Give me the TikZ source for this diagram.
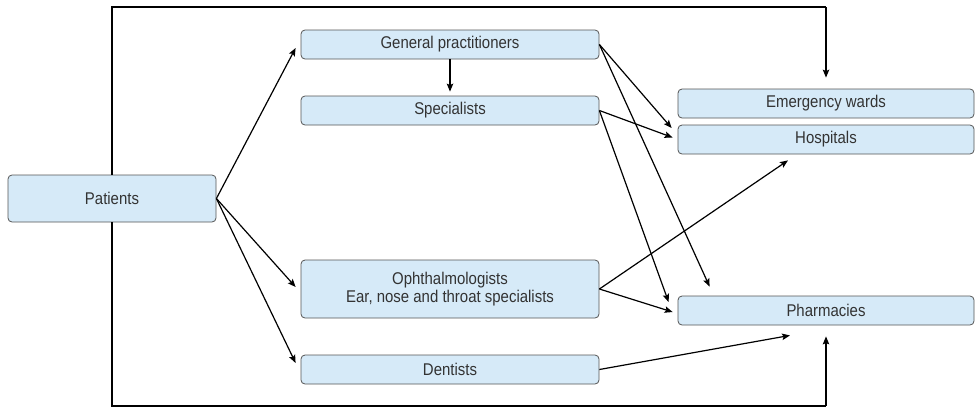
\documentclass[tikz,border=0pt]{standalone}
\usepackage{fontspec}
\setmainfont[FakeStretch=0.88]{Liberation Sans}
\usetikzlibrary{arrows.meta,calc}
\definecolor{boxfill}{HTML}{D6EAF8}
\definecolor{boxline}{HTML}{555555}
\definecolor{txt}{HTML}{333333}
\begin{document}
\begin{tikzpicture}[x=1pt,y=-1pt,
  box/.style={draw=boxline,fill=boxfill,rounded corners=4pt,line width=0.8pt,
    text=txt,font=\fontsize{17}{18}\selectfont,align=center,inner sep=0pt,anchor=center},
  conn/.style={line width=1.2pt,-{Stealth[length=8pt,width=6.5pt,inset=1.5pt]}},
  fr/.style={line width=1.2pt}]
\useasboundingbox (0,0) rectangle (975,408);
\node[box,minimum width=208pt,minimum height=47pt] (pat) at (112,198.5) {Patients};
\node[box,minimum width=298pt,minimum height=29pt] (gp) at (450,44.5) {General practitioners};
\node[box,minimum width=298pt,minimum height=29pt] (spec) at (450,110.5) {Specialists};
\node[box,minimum width=298pt,minimum height=58pt] (oph) at (450,289) {Ophthalmologists\\Ear, nose and throat specialists};
\node[box,minimum width=298pt,minimum height=29pt] (dent) at (450,369.5) {Dentists};
\node[box,minimum width=296pt,minimum height=29pt] (emerg) at (826,103.5) {Emergency wards};
\node[box,minimum width=296pt,minimum height=29pt] (hosp) at (826,139.5) {Hospitals};
\node[box,minimum width=296pt,minimum height=29pt] (pharm) at (826,310.5) {Pharmacies};
\coordinate (tc) at (826,7);
\coordinate (bc) at (826,406);
% frame
\draw[fr] (pat.north) |- (tc);
\draw[conn] (tc) -- ($(emerg.north)+(0,-11)$);
\draw[fr] (pat.south) |- (bc);
\draw[conn] (bc) -- ($(pharm.south)+(0,11)$);
% patients
\draw[conn] (pat.east) -- ($(gp.west)+(-5,3.5)$);
\draw[conn] (pat.east) -- ($(oph.west)+(-5,-2)$);
\draw[conn] (pat.east) -- ($(dent.west)+(-5,-6.5)$);
% gp
\draw[conn] (gp.south) -- ($(spec.north)+(0,-4)$);
\draw[conn] (gp.east) -- ($(hosp.west)+(-6,-11.5)$);
\draw[conn] (gp.east) -- ($(pharm.north west)+(32,-9)$);
% specialists
\draw[conn] (spec.east) -- ($(hosp.west)+(-5,-2)$);
\draw[conn] (spec.east) -- ($(pharm.west)+(-9,-8.5)$);
% ophth
\draw[conn] (oph.east) -- ($(hosp.south)+(-38,6)$);
\draw[conn] (oph.east) -- ($(pharm.west)+(-5,1.5)$);
% dentists
\draw[conn] (dent.east) -- ($(pharm.south)+(-36,10)$);
\end{tikzpicture}
\end{document}
